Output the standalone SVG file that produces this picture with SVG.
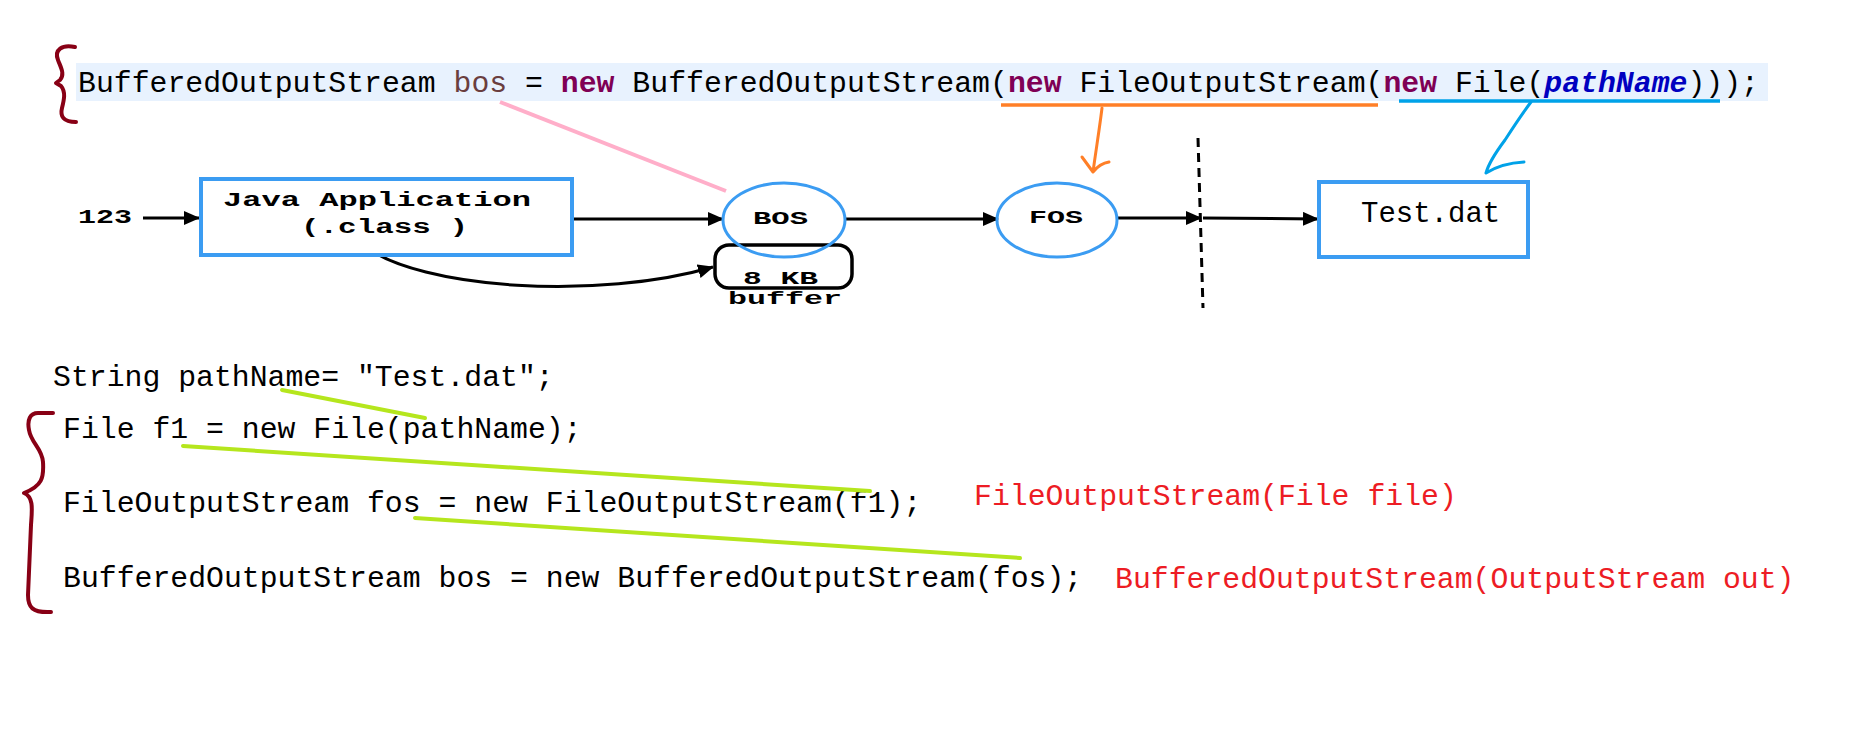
<svg xmlns="http://www.w3.org/2000/svg" width="1852" height="743" viewBox="0 0 1852 743">
<defs>
<style>
.code{font-family:"Liberation Mono","DejaVu Sans Mono",monospace;font-size:29.8px;fill:#000}
.red{fill:#ED1C24}
.kw{fill:#7F0055;font-weight:bold}
.var{fill:#6A3E3E}
.fld{fill:#0000C0;font-weight:bold;font-style:italic}
.dt{font-family:"Liberation Mono","DejaVu Sans Mono",monospace;font-size:20px;font-weight:bold;fill:#000}
.sm{font-size:17.5px}
.box{fill:#fff;stroke:#3B9CF2;stroke-width:4}
.arr{fill:none;stroke:#000;stroke-width:3}
.brace{fill:none;stroke:#880015;stroke-width:4;stroke-linecap:round;stroke-linejoin:round}
.green{stroke:#B5E61D;stroke-width:4;stroke-linecap:round;fill:none}
</style>
<marker id="ah" viewBox="0 0 16 14" refX="15" refY="7" markerWidth="16" markerHeight="14" markerUnits="userSpaceOnUse" orient="auto">
<path d="M0,0 L16,7 L0,14 z" fill="#000"/>
</marker>
</defs>
<rect width="1852" height="743" fill="#fff"/>

<g id="top-code">
<rect x="76" y="63" width="1692" height="38" fill="#E8F2FE"/>
<text class="code" x="78" y="92" xml:space="preserve">BufferedOutputStream <tspan class="var">bos</tspan> = <tspan class="kw">new</tspan> BufferedOutputStream(<tspan class="kw">new</tspan> FileOutputStream(<tspan class="kw">new</tspan> File(<tspan class="fld">pathName</tspan>)));</text>
<path class="brace" d="M75,47 C62,44 54,50 58,60 C61,68 65,74 60,80 L56,83 L61,86 C66,92 64,100 62,108 C60,116 63,122 76,122"/>
</g>

<g id="annotations">
<path d="M500,102 L726,191" stroke="#FFAEC9" stroke-width="4" fill="none"/>
<path d="M1001,105 L1378,105" stroke="#FF7F27" stroke-width="3.5" fill="none"/>
<path d="M1102,108 C1100,125 1096,150 1093,172 M1082,157 L1093,172 C1097,167 1102,163 1109,162" stroke="#FF7F27" stroke-width="3" fill="none" stroke-linecap="round" stroke-linejoin="round"/>
<path d="M1399,101 L1720,101" stroke="#00A2E8" stroke-width="3.5" fill="none"/>
<path d="M1531,102 C1522,114 1514,126 1505,140 C1496,152 1489,162 1486,173 C1494,168 1505,163 1524,162" stroke="#00A2E8" stroke-width="3" fill="none" stroke-linecap="round" stroke-linejoin="round"/>
</g>

<g id="connectors">
<path class="arr" d="M143,218 L199,218" marker-end="url(#ah)"/>
<path class="arr" d="M569,219 L723,219" marker-end="url(#ah)"/>
<path class="arr" d="M846,219 L998,219" marker-end="url(#ah)"/>
<path class="arr" d="M1118,218 L1201,218" marker-end="url(#ah)"/>
<path class="arr" d="M1203,218 L1318,219" marker-end="url(#ah)"/>
<path class="arr" d="M363,245 C420,290 600,300 713,267" marker-end="url(#ah)"/>
</g>

<g id="input">
<text class="dt" x="78" y="223" textLength="54" lengthAdjust="spacingAndGlyphs">123</text>
</g>

<g id="java-app">
<rect class="box" x="201" y="179" width="371" height="76"/>
<text class="dt" x="223" y="206" textLength="308" lengthAdjust="spacingAndGlyphs">Java Application</text>
<text class="dt" x="301" y="233" textLength="167" lengthAdjust="spacingAndGlyphs">(.class )</text>
</g>

<g id="buffer">
<rect x="715" y="245" width="137" height="43" rx="14" fill="none" stroke="#000" stroke-width="3.5"/>
<text class="dt sm" x="743" y="284" textLength="75" lengthAdjust="spacingAndGlyphs">8 KB</text>
<text class="dt sm" x="728" y="304" textLength="114" lengthAdjust="spacingAndGlyphs">buffer</text>
</g>

<g id="bos">
<ellipse cx="784" cy="220" rx="61" ry="37" fill="none" stroke="#3B9CF2" stroke-width="3"/>
<text class="dt sm" x="753" y="224" textLength="55" lengthAdjust="spacingAndGlyphs">BOS</text>
</g>

<g id="fos">
<ellipse cx="1057" cy="220" rx="60" ry="37" fill="none" stroke="#3B9CF2" stroke-width="3"/>
<text class="dt sm" x="1029" y="223" textLength="54" lengthAdjust="spacingAndGlyphs">FOS</text>
</g>

<g id="boundary">
<path d="M1198,138 L1203,308" stroke="#000" stroke-width="3" stroke-dasharray="9 6" fill="none"/>
</g>

<g id="test-dat">
<rect class="box" x="1319" y="182" width="209" height="75"/>
<text class="code" style="font-size:29px" x="1361" y="222">Test.dat</text>
</g>

<g id="bottom-code">
<text class="code" x="53" y="386" xml:space="preserve">String pathName= "Test.dat";</text>
<text class="code" x="63" y="438" xml:space="preserve">File f1 = new File(pathName);</text>
<text class="code" x="63" y="512" xml:space="preserve">FileOutputStream fos = new FileOutputStream(f1);</text>
<text class="code" x="63" y="587" xml:space="preserve">BufferedOutputStream bos = new BufferedOutputStream(fos);</text>
<text class="code red" x="974" y="505" xml:space="preserve">FileOutputStream(File file)</text>
<text class="code red" x="1115" y="588" xml:space="preserve">BufferedOutputStream(OutputStream out)</text>
<path class="brace" d="M53,413 L38,413 C30,413 27,420 29,430 C31,443 42,448 43,462 C44,478 42,486 24,493 C34,497 32,510 31,525 L28,595 C28,607 32,613 51,612"/>
<path class="green" d="M282,390 L425,418"/>
<path class="green" d="M183,446 L870,491"/>
<path class="green" d="M415,518 L1020,558"/>
</g>
</svg>
